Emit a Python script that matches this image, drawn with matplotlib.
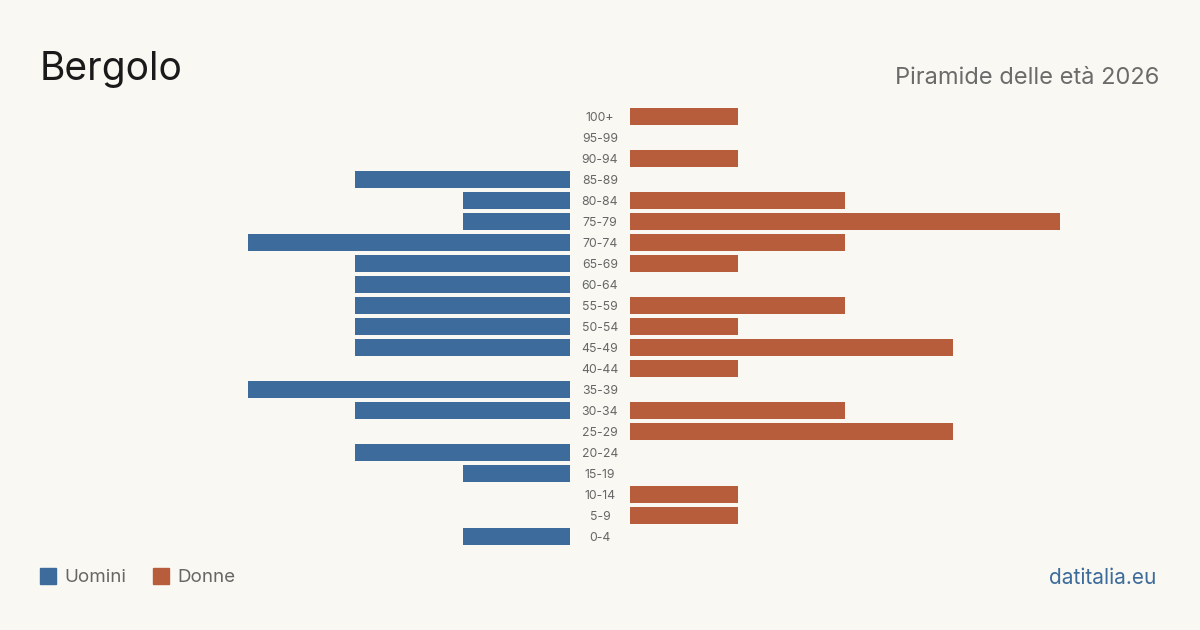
import matplotlib
matplotlib.use("Agg")
import matplotlib.pyplot as plt
from matplotlib.patches import Rectangle

plt.rcParams['font.family'] = ['Inter', 'DejaVu Sans']

age_groups = ["100+", "95-99", "90-94", "85-89", "80-84", "75-79", "70-74", "65-69",
              "60-64", "55-59", "50-54", "45-49", "40-44", "35-39", "30-34", "25-29",
              "20-24", "15-19", "10-14", "5-9", "0-4"]
men = [0, 0, 0, 2, 1, 1, 3, 2, 2, 2, 2, 2, 0, 3, 2, 0, 2, 1, 0, 0, 1]
women = [1, 0, 1, 0, 2, 4, 2, 1, 0, 2, 1, 3, 1, 0, 2, 3, 0, 0, 1, 1, 0]

title = "Bergolo"
subtitle = "Piramide delle età 2026"
legend_labels = ["Uomini", "Donne"]
source = "datitalia.eu"

BG = "#f9f8f3"
BLUE = "#3d6b9b"
ORANGE = "#b85d3c"
W, H = 1200, 630

fig = plt.figure(figsize=(W / 100, H / 100), dpi=100, facecolor=BG)

n = len(age_groups)
ypos = list(range(n))
row = 21.0
top_px = 116.5 - row / 2
bot_px = top_px + row * n
scale = 107.5  # px per unit
xmax = 4

def fx(px):
    return px / W

def fy(px):
    return 1 - px / H

ax_h = (bot_px - top_px) / H
axL = fig.add_axes([fx(570 - scale * xmax), fy(bot_px), scale * xmax / W, ax_h])
axR = fig.add_axes([fx(630), fy(bot_px), scale * xmax / W, ax_h])

for ax in (axL, axR):
    ax.set_facecolor("none")
    ax.set_ylim(n - 0.5, -0.5)
    for s in ax.spines.values():
        s.set_visible(False)
    ax.set_xticks([])
    ax.set_yticks([])

axL.set_xlim(xmax, 0)
axR.set_xlim(0, xmax)
bh = 17 / row
axL.barh(ypos, men, height=bh, color=BLUE)
axR.barh(ypos, women, height=bh, color=ORANGE)

for i, lab in enumerate(age_groups):
    axR.annotate(lab, xy=(0, i), xycoords="data", xytext=(-30, 0), textcoords="offset pixels",
                 ha="center", va="center_baseline", fontsize=8.8, color="#666666")

fig.text(fx(40), fy(65), title, fontsize=28, color="#1a1a1a", ha="left", va="center_baseline")
fig.text(fx(1159), fy(76), subtitle, fontsize=17, color="#6b6b6b", ha="right", va="center_baseline")

# legend
fig.patches.append(Rectangle((fx(40), fy(584)), 16 / W, 16 / H, transform=fig.transFigure,
                             color=BLUE, figure=fig))
fig.text(fx(64), fy(576), legend_labels[0], fontsize=13.5, color="#666666", ha="left", va="center_baseline")
fig.patches.append(Rectangle((fx(153), fy(584)), 16 / W, 16 / H, transform=fig.transFigure,
                             color=ORANGE, figure=fig))
fig.text(fx(177), fy(576), legend_labels[1], fontsize=13.5, color="#666666", ha="left", va="center_baseline")

fig.text(fx(1156), fy(576), source, fontsize=15, color="#3d6b9b", ha="right", va="center_baseline")

fig.savefig("out.png", dpi=100, facecolor=BG)
